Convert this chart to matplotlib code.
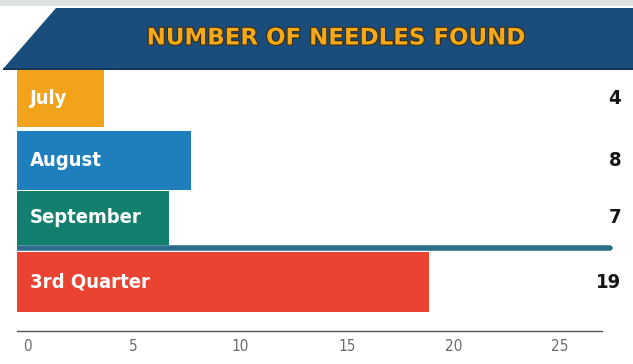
import matplotlib.pyplot as plt
from matplotlib.patches import Polygon, Rectangle
import matplotlib.patheffects as pe
import matplotlib.transforms as mtransforms

months = ["July", "August", "September", "3rd Quarter"]
needles = [4, 8, 7, 19]
bar_colors = ["#f2a31c", "#1f7fbd", "#13806f", "#ea4332"]
ticks = [0, 5, 10, 15, 20, 25]
title = "NUMBER OF NEEDLES FOUND"

COND = dict(family="DejaVu Sans", fontstretch="condensed")

W, H = 633, 364
fig = plt.figure(figsize=(W / 100, H / 100), dpi=100)
fig.patch.set_facecolor("white")


def fx(px):
    return px / W


def fy(py):
    return 1 - py / H


# grey strip on top and the slanted header banner
fig.patches.append(Rectangle((0, fy(6)), 1, 6 / H, transform=fig.transFigure,
                             facecolor="#dde0e0", edgecolor="none"))
banner = Polygon([(fx(3), fy(69)), (fx(56), fy(8)), (1, fy(8)), (1, fy(69))],
                 closed=True, transform=fig.transFigure,
                 facecolor="#1b4d7c", edgecolor="none")
fig.patches.append(banner)
fig.patches.append(Rectangle((fx(3), fy(70)), 1, 2 / H, transform=fig.transFigure,
                             facecolor="#123758", edgecolor="none"))
fig.text(fx(336), fy(38), title, ha="center", va="center", fontsize=16.5,
         fontweight="bold", color="#f4a91a", family="DejaVu Sans",
         path_effects=[pe.withStroke(linewidth=1.6, foreground="#3a2a10")])

# bar area: x from 17 px, 21.7 px per needle
x0, px_per = 17, 21.7
ax_left, ax_right = 17, 621
ax_top, ax_bottom = 68, 331
ax = fig.add_axes([fx(ax_left), fy(ax_bottom), (ax_right - ax_left) / W,
                   (ax_bottom - ax_top) / H])
ax.set_xlim(0, (ax_right - ax_left) / px_per)
ax.set_ylim((ax_bottom - ax_top) / 60, 0)

ypos = [0.51, 1.54, 2.5, 3.57]
heights = [0.95, 0.98, 0.9, 1.0]
ax.barh(ypos, needles, height=heights, color=bar_colors, zorder=2)

for y, name, val in zip(ypos, months, needles):
    ax.text(0.6, y, name, ha="left", va="center", color="white",
            fontsize=14.5, fontweight="bold", zorder=4, **COND)
    ax.text(1.0, y, str(val), transform=ax.get_yaxis_transform(),
            ha="right", va="center", color="#151515", fontsize=14.5,
            fontweight="bold", **COND)

# quarter separator
ax.plot([0, (610 - x0) / px_per], [3.0, 3.0], color="#2c6d8c", lw=4,
        solid_capstyle="round", zorder=3)

for s in ["top", "right", "left"]:
    ax.spines[s].set_visible(False)
ax.spines["bottom"].set_color("#555555")
ax.spines["bottom"].set_linewidth(1.0)
ax.spines["bottom"].set_bounds(0, (602 - x0) / px_per)
ax.set_yticks([])
ax.set_xticks(ticks)
ax.set_xticklabels([str(t) for t in ticks], fontsize=11, color="#6a6a6a",
                   **COND)
ax.tick_params(axis="x", length=0, pad=6)
for i, lab in enumerate(ax.get_xticklabels()):
    lab.set_transform(lab.get_transform() + mtransforms.ScaledTranslation(
        (10 - 1.9 * i) / 100, 0, fig.dpi_scale_trans))
ax.set_facecolor("none")

fig.savefig("out.png", dpi=100)
